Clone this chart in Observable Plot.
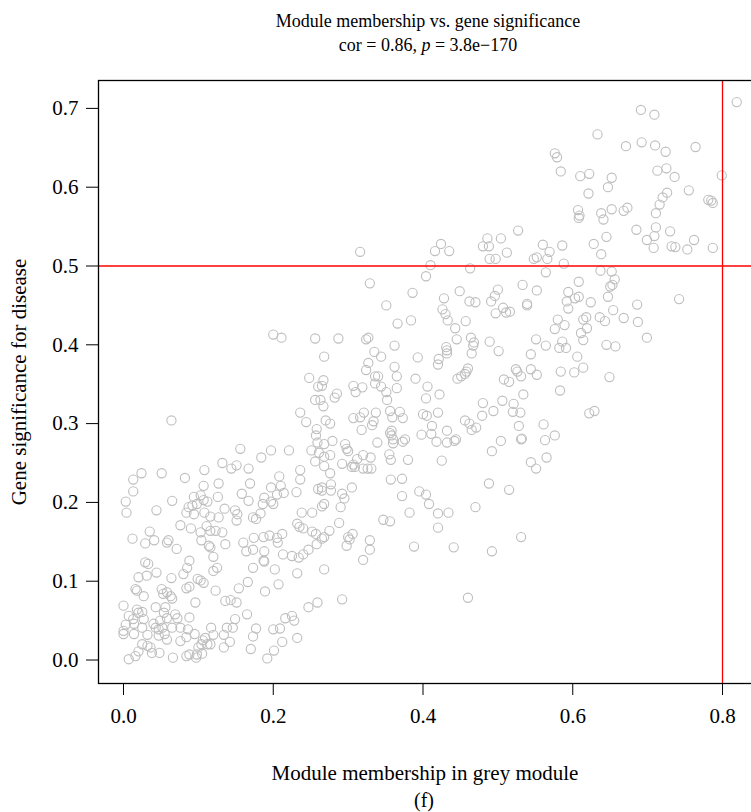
<!DOCTYPE html>
<html><head><meta charset="utf-8">
<script src="https://cdn.jsdelivr.net/npm/d3@7"></script>
<script src="https://cdn.jsdelivr.net/npm/@observablehq/plot@0.6"></script>
<style>
body{margin:0;background:#fff;}
#wrap{position:relative;width:751px;height:812px;overflow:hidden;font-family:"Liberation Serif",serif;color:#000;background:#fff;}
#wrap svg{position:absolute;left:0;top:0;max-width:none !important;}
.t{position:absolute;transform:translate(-50%,-50%);white-space:nowrap;line-height:1;}
</style></head><body>
<div id="wrap"></div>
<script>
const titleText = "Module membership vs. gene significance";
const subtitleParts = ["cor = 0.86, ", "p", " = 3.8e\u2212170"];
const xLabel = "Module membership in grey module";
const yLabel = "Gene significance for disease";
const caption = "(f)";
const xTicks = [0, 0.2, 0.4, 0.6, 0.8];
const yTicks = [0, 0.1, 0.2, 0.3, 0.4, 0.5, 0.6, 0.7];
const thresholdX = 0.8;
const thresholdY = 0.5;

// module membership (x)
const mm = [
0.316,0.424,0.416,0.435,0.410,0.404,0.463,0.486,0.480,0.488,0.504,0.527,0.512,0.489,0.497,0.548,0.552,
0.819,0.691,0.709,0.633,0.671,0.692,0.710,0.724,0.764,0.576,0.579,0.584,0.610,0.622,0.652,0.647,0.621,0.713,0.725,0.736,0.799,0.755,0.726,0.720,0.716,0.711,0.781,0.785,0.787,0.607,0.609,0.608,0.638,0.641,0.652,0.668,0.673,0.685,0.711,0.709,0.699,0.708,0.730,0.732,0.737,0.753,0.762,0.787,0.645,0.628,0.638,0.586,0.560,0.569,0.566,0.588,0.564,0.637,0.652,
0.656,0.650,0.653,0.608,0.647,0.594,0.592,0.603,0.608,0.624,0.594,0.686,0.742,0.654,0.580,0.576,0.589,0.614,0.618,0.636,0.643,0.668,0.687,0.619,0.611,0.614,0.699,0.586,0.564,0.582,0.591,0.645,0.657,0.606,0.584,0.602,0.614,0.649,0.583,0.622,0.629,0.561,0.576,0.563,0.565,
0.329,0.386,0.351,0.366,0.384,0.449,0.428,0.462,0.470,0.500,0.496,0.491,0.533,0.552,0.507,0.497,0.511,0.516,0.539,0.539,0.426,0.430,0.433,0.457,0.443,0.445,0.464,0.468,0.467,0.465,0.489,0.501,0.551,0.544,0.287,0.324,0.327,0.268,0.335,0.344,0.362,0.393,0.431,0.432,0.432,0.421,0.420,0.327,0.324,0.362,0.365,0.336,0.340,0.336,0.344,0.267,0.265,0.307,0.310,0.319,0.390,0.365,0.351,0.352,0.406,0.404,0.422,0.446,0.451,0.456,0.458,0.460,0.508,0.515,0.524,0.526,0.531,0.544,0.552,0.534,0.285,0.282,0.263,0.267,0.270,0.276,0.307,0.316,0.321,0.337,0.334,0.332,0.318,0.356,0.359,0.369,0.373,0.400,0.405,0.420,0.412,0.411,0.398,0.432,0.456,0.462,0.465,0.471,0.480,0.479,0.494,0.506,0.521,0.520,0.530,0.528,0.532,0.531,0.504,0.492,0.356,0.358,0.360,0.360,0.358,0.373,0.376,0.339,0.418,0.432,0.442,0.444,0.279,0.268,0.296,0.298,0.300,0.276,0.268,0.320,0.330,0.355,0.357,0.380,0.425,0.312,0.307,0.292,0.305,0.309,0.320,0.326,0.331,0.268,0.276,0.357,0.372,0.544,0.551,
0.200,0.211,0.256,0.248,0.260,0.256,0.236,0.244,0.258,0.257,0.259,0.251,0.261,0.256,0.221,0.197,0.184,0.156,0.064,0.132,0.144,0.151,0.167,0.108,0.051,0.024,0.013,0.082,0.208,0.236,0.236,
0.013,0.003,0.004,0.044,0.065,0.107,0.127,0.169,0.197,0.210,0.260,0.094,0.103,0.107,0.112,0.087,0.092,0.098,0.084,0.094,0.108,0.116,0.127,0.126,0.135,0.149,0.152,0.151,0.158,0.167,0.188,0.197,0.186,0.200,0.205,0.214,0.231,0.183,0.173,0.177,0.238,0.252,0.232,0.235,0.240,0.252,0.257,0.076,0.090,0.103,0.111,0.116,0.123,0.132,0.035,0.012,0.029,0.041,0.060,0.058,0.071,0.104,0.114,0.116,0.136,0.160,0.164,0.174,0.173,0.187,0.195,0.205,0.212,0.206,0.188,0.187,0.213,0.225,0.234,0.240,0.247,0.258,0.120,0.088,0.085,0.080,0.125,0.120,0.029,0.033,0.044,0.031,0.020,0.064,0.173,0.188,0.202,0.232,0.207,0.189,0.166,0.154,0.123,0.103,0.099,0.088,0.084,0.107,0.051,0.053,0.058,0.063,0.065,0.016,0.018,0.027,0.096,0.136,0.143,0.151,0.000,0.018,0.020,0.025,0.043,0.056,0.054,0.069,0.072,0.088,0.007,0.013,0.003,0.014,0.027,0.025,0.000,0.000,0.014,0.032,0.040,0.043,0.047,0.052,0.049,0.058,0.055,0.047,0.058,0.065,0.076,0.086,0.076,0.084,0.095,0.106,0.109,0.117,0.112,0.104,0.100,0.116,0.120,0.134,0.138,0.146,0.149,0.165,0.177,0.173,0.142,0.134,0.170,0.200,0.209,0.212,0.201,0.192,0.216,0.225,0.228,0.232,0.247,0.259,0.007,0.016,0.020,0.025,0.032,0.036,0.038,0.048,0.066,0.084,0.088,0.097,0.098,0.105,
0.277,0.265,0.265,0.277,0.305,0.292,0.295,0.290,0.268,0.265,0.288,0.275,0.268,0.265,0.300,0.306,0.302,0.298,0.329,0.329,0.320,0.268,0.292,0.372,0.347,0.356,0.382,0.395,0.404,0.408,0.420,0.434,0.420,0.388,0.441,0.460,0.470,0.488,0.515,0.492,0.531
];

// gene significance (y)
const gs = [
0.518,0.528,0.519,0.519,0.501,0.487,0.497,0.535,0.525,0.525,0.535,0.545,0.517,0.509,0.509,0.509,0.511,
0.708,0.698,0.692,0.667,0.652,0.657,0.653,0.645,0.651,0.643,0.638,0.620,0.614,0.617,0.612,0.600,0.592,0.621,0.624,0.613,0.615,0.596,0.593,0.587,0.578,0.567,0.584,0.583,0.580,0.571,0.564,0.561,0.567,0.559,0.572,0.570,0.574,0.546,0.549,0.538,0.533,0.523,0.544,0.525,0.524,0.521,0.533,0.523,0.537,0.528,0.515,0.526,0.527,0.518,0.509,0.503,0.492,0.494,0.493,
0.483,0.474,0.476,0.480,0.461,0.467,0.455,0.459,0.461,0.454,0.446,0.451,0.458,0.444,0.432,0.420,0.425,0.432,0.435,0.435,0.430,0.434,0.429,0.421,0.415,0.406,0.409,0.404,0.399,0.396,0.396,0.400,0.398,0.385,0.366,0.365,0.371,0.359,0.342,0.313,0.316,0.299,0.285,0.279,0.257,
0.478,0.466,0.450,0.427,0.431,0.468,0.459,0.455,0.454,0.470,0.462,0.455,0.476,0.469,0.447,0.440,0.441,0.442,0.452,0.450,0.445,0.439,0.431,0.430,0.421,0.407,0.409,0.403,0.399,0.389,0.404,0.392,0.407,0.388,0.408,0.407,0.409,0.385,0.391,0.385,0.399,0.384,0.397,0.393,0.389,0.382,0.375,0.377,0.368,0.372,0.360,0.360,0.360,0.351,0.347,0.355,0.348,0.348,0.340,0.346,0.357,0.345,0.340,0.330,0.347,0.332,0.337,0.357,0.360,0.363,0.366,0.370,0.356,0.353,0.369,0.366,0.360,0.369,0.362,0.337,0.338,0.333,0.330,0.322,0.304,0.300,0.307,0.308,0.314,0.314,0.303,0.298,0.292,0.316,0.308,0.315,0.307,0.312,0.310,0.314,0.297,0.287,0.286,0.291,0.304,0.300,0.292,0.295,0.326,0.310,0.316,0.329,0.325,0.315,0.314,0.297,0.281,0.280,0.278,0.265,0.288,0.285,0.280,0.275,0.291,0.277,0.280,0.276,0.277,0.276,0.278,0.280,0.278,0.274,0.274,0.268,0.265,0.260,0.258,0.260,0.257,0.261,0.254,0.254,0.253,0.255,0.248,0.249,0.245,0.245,0.243,0.243,0.243,0.246,0.237,0.229,0.230,0.251,0.243,
0.413,0.409,0.408,0.358,0.347,0.330,0.314,0.302,0.293,0.285,0.276,0.266,0.263,0.252,0.266,0.266,0.257,0.268,0.304,0.250,0.243,0.247,0.243,0.241,0.237,0.237,0.229,0.231,0.233,0.241,0.229,
0.214,0.201,0.187,0.190,0.202,0.221,0.224,0.224,0.219,0.221,0.217,0.207,0.209,0.203,0.201,0.194,0.196,0.198,0.187,0.185,0.187,0.182,0.181,0.207,0.192,0.190,0.185,0.177,0.211,0.202,0.206,0.201,0.198,0.198,0.210,0.212,0.213,0.186,0.181,0.179,0.187,0.187,0.173,0.169,0.167,0.163,0.160,0.171,0.167,0.162,0.170,0.164,0.164,0.162,0.163,0.154,0.148,0.152,0.152,0.149,0.141,0.152,0.145,0.143,0.147,0.149,0.138,0.155,0.140,0.156,0.158,0.155,0.160,0.149,0.138,0.126,0.134,0.132,0.130,0.134,0.140,0.147,0.131,0.126,0.117,0.109,0.117,0.113,0.124,0.122,0.111,0.107,0.105,0.104,0.117,0.125,0.115,0.110,0.096,0.087,0.099,0.091,0.088,0.101,0.103,0.093,0.091,0.098,0.090,0.084,0.086,0.081,0.078,0.090,0.088,0.081,0.073,0.075,0.076,0.073,0.069,0.064,0.060,0.061,0.067,0.067,0.060,0.058,0.053,0.054,0.056,0.052,0.045,0.046,0.052,0.041,0.033,0.037,0.033,0.032,0.046,0.041,0.039,0.041,0.050,0.053,0.033,0.031,0.026,0.041,0.041,0.039,0.024,0.029,0.033,0.025,0.028,0.041,0.020,0.020,0.016,0.020,0.032,0.032,0.041,0.041,0.052,0.058,0.040,0.030,0.023,0.016,0.014,0.039,0.040,0.023,0.012,0.002,0.053,0.056,0.050,0.028,0.067,0.073,0.001,0.005,0.011,0.020,0.018,0.016,0.009,0.009,0.003,0.005,0.007,0.003,0.007,0.008,
0.223,0.219,0.215,0.215,0.219,0.211,0.205,0.194,0.198,0.195,0.174,0.164,0.156,0.154,0.156,0.160,0.153,0.145,0.152,0.140,0.127,0.115,0.077,0.208,0.178,0.176,0.187,0.214,0.210,0.198,0.186,0.187,0.168,0.144,0.143,0.079,0.194,0.224,0.216,0.138,0.156
];

const data = mm.map((x, i) => ({x, y: gs[i]}));

const chart = Plot.plot({
  width: 775, height: 812,
  marginTop: 80, marginBottom: 129, marginLeft: 98, marginRight: 13,
  x: {domain: [-0.0334, 0.8534]},
  y: {domain: [-0.0298, 0.7354]},
  style: {fontFamily: "Liberation Serif", fontSize: "21px", background: "white", color: "black", maxWidth: "none"},
  marks: [
    Plot.dot(data, {x: "x", y: "y", r: 4.6, stroke: "#bebebe", strokeWidth: 1.1, fill: "none"}),
    Plot.ruleY([thresholdY], {stroke: "red", strokeWidth: 1.3}),
    Plot.ruleX([thresholdX], {stroke: "red", strokeWidth: 1.3}),
    Plot.frame({stroke: "black", strokeWidth: 1.3}),
    Plot.axisX({ticks: xTicks, tickSize: 12, tickPadding: 13, tickFormat: d => d.toFixed(1), label: null, fontSize: 21}),
    Plot.axisY({ticks: yTicks, tickSize: 12, tickPadding: 8, tickFormat: d => d.toFixed(1), label: null, fontSize: 21})
  ]
});
chart.style.maxWidth = "none";
chart.setAttribute("width", 775);
chart.setAttribute("height", 812);

const wrap = document.getElementById("wrap");
wrap.appendChild(chart);

function addText(txt, x, y, size, rotate) {
  const d = document.createElement("div");
  d.className = "t";
  d.style.left = x + "px";
  d.style.top = y + "px";
  d.style.fontSize = size + "px";
  if (rotate) d.style.transform = "translate(-50%,-50%) rotate(-90deg)";
  if (Array.isArray(txt)) {
    txt.forEach((p, i) => {
      const s = document.createElement("span");
      s.textContent = p;
      if (i === 1) s.style.fontStyle = "italic";
      d.appendChild(s);
    });
  } else d.textContent = txt;
  wrap.appendChild(d);
}
addText(titleText, 428, 21, 18);
addText(subtitleParts, 428, 45, 18);
addText(xLabel, 425, 773, 21);
addText(caption, 424, 800, 20);
addText(yLabel, 19, 382, 21, true);
</script>
</body></html>
